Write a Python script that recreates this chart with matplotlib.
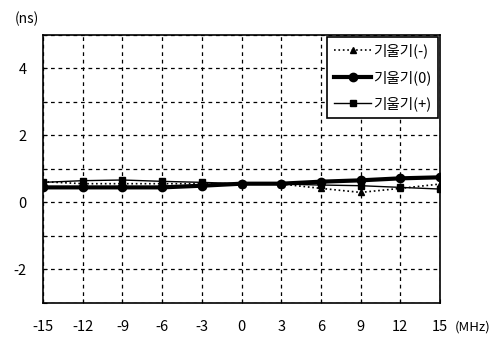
import matplotlib.pyplot as plt

plt.rcParams['font.family'] = ['Noto Sans CJK KR', 'DejaVu Sans']
plt.rcParams['axes.unicode_minus'] = False

freq = [-15, -12, -9, -6, -3, 0, 3, 6, 9, 12, 15]
slope_minus = [0.62, 0.56, 0.56, 0.56, 0.56, 0.56, 0.55, 0.42, 0.30, 0.42, 0.55]
slope_zero = [0.45, 0.45, 0.45, 0.45, 0.50, 0.56, 0.56, 0.62, 0.66, 0.72, 0.75]
slope_plus = [0.60, 0.65, 0.67, 0.63, 0.60, 0.56, 0.55, 0.52, 0.50, 0.45, 0.40]

fig = plt.figure(figsize=(4.95, 3.42), dpi=100)
ax = fig.add_axes([0.087, 0.114, 0.802, 0.784])

ax.plot(freq, slope_minus, color="black", linestyle=":", linewidth=1.2,
        marker="^", markersize=5, label="기울기(-)")
ax.plot(freq, slope_zero, color="black", linestyle="-", linewidth=3,
        marker="o", markersize=6, label="기울기(0)")
ax.plot(freq, slope_plus, color="black", linestyle="-", linewidth=1,
        marker="s", markersize=5, label="기울기(+)")

ax.set_xlim(-15, 15)
ax.set_ylim(-3, 5)
ax.set_xticks(freq)
ax.set_yticks(range(-3, 6))
ax.set_yticklabels(["", "-2", "", "0", "", "2", "", "4", ""])
ax.grid(True, color="black", linestyle="--", linewidth=0.9, dashes=(3, 3))
ax.tick_params(axis="both", direction="in", length=3, labelsize=10.5, pad=12)
ax.tick_params(axis="y", pad=12)
for s in ax.spines.values():
    s.set_linewidth(1.2)

fig.text(0.03, 0.945, "(ns)", fontsize=10, ha="left", va="center")
fig.text(0.918, 0.045, "(MHz)", fontsize=9.5, ha="left", va="center")

leg = ax.legend(loc="upper right", fontsize=10.5, frameon=True, fancybox=False,
                edgecolor="black", framealpha=1, borderaxespad=0.15,
                handlelength=2.6, handletextpad=0.1, labelspacing=0.8,
                borderpad=0.45)
leg.get_frame().set_linewidth(1.2)

fig.savefig("out.png", dpi=100)
